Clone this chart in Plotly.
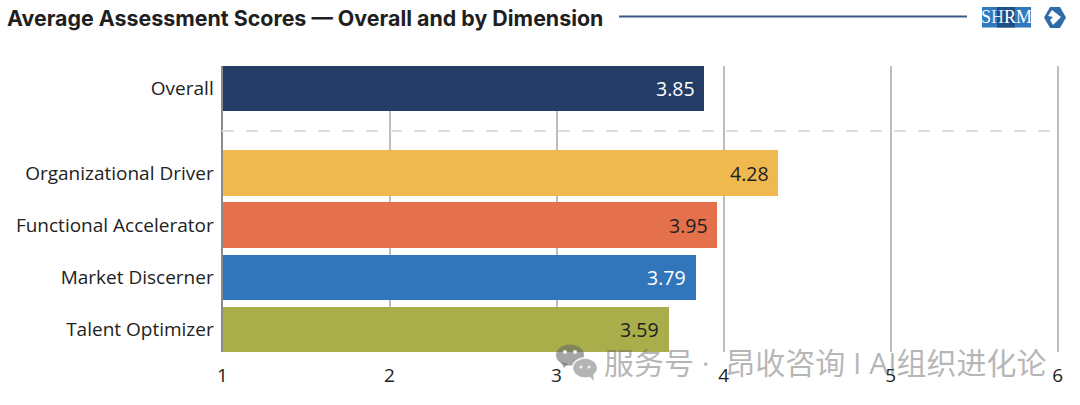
import plotly.graph_objects as go

categories = ["Overall", "Organizational Driver", "Functional Accelerator", "Market Discerner", "Talent Optimizer"]
bar_values = [3.88, 4.325, 3.96, 3.83, 3.67]
value_labels = ["3.85", "4.28", "3.95", "3.79", "3.59"]
bar_colors = ["#243d66", "#f0b94f", "#e4714c", "#3176bb", "#a9ad4a"]
label_colors = ["#ffffff", "#222222", "#222222", "#ffffff", "#222222"]
x_ticks = [1, 2, 3, 4, 5, 6]
group_gap = 0.62
FONT = "'Open Sans', sans-serif"
W, H = 1080, 405


def X(p):
    return p / W


def Y(p):
    return 1 - p / H


rows = [i + (group_gap if i > 0 else 0) for i in range(len(categories))]

fig = go.Figure(go.Bar(
    x=bar_values, y=rows, orientation="h", width=0.87,
    marker=dict(color=bar_colors, line=dict(width=0)),
    showlegend=False, hoverinfo="skip",
))

annotations = []
for r, v, t, c in zip(rows, bar_values, value_labels, label_colors):
    annotations.append(dict(x=v, y=r, xref="x", yref="y", text=t, showarrow=False,
                            xanchor="right", xshift=-7, font=dict(family=FONT, size=19.5, color=c)))

annotations.append(dict(x=X(5), y=Y(18), xref="paper", yref="paper", xanchor="left", yanchor="middle",
                        text="<b>Average Assessment Scores — Overall and by Dimension</b>", showarrow=False,
                        font=dict(family="Inter, sans-serif", size=21.4, color="#1f1f1f")))
annotations.append(dict(x=X(1006.5), y=Y(17.5), xref="paper", yref="paper", xanchor="center", yanchor="middle",
                        text="S<span style='color:#dfe8f4'>H</span>RM",
                        showarrow=False, font=dict(family="Liberation Serif", size=18, color="#ffffff")))
annotations.append(dict(x=X(602), y=Y(362), xref="paper", yref="paper", xanchor="left", yanchor="middle",
                        text="服务号 · \u00a0昂收咨询 I AI组织进化论", showarrow=False,
                        font=dict(family="'Open Sans', 'Noto Sans CJK SC'", size=30, color="rgba(110,110,110,0.5)")))


def pshape(**kw):
    return dict(xref="paper", yref="paper", **kw)


def ell(cx, cy, rx, ry, fill, line=None):
    return pshape(type="circle", x0=X(cx - rx), x1=X(cx + rx), y0=Y(cy - ry), y1=Y(cy + ry),
                  fillcolor=fill, line=dict(width=1.5 if line else 0, color=line or fill))


def poly(points, fill):
    path = "M " + " L ".join(f"{X(a)} {Y(b)}" for a, b in points) + " Z"
    return pshape(type="path", path=path, fillcolor=fill, line=dict(width=0))


shapes = [
    pshape(type="line", x0=X(222), x1=X(1058), y0=Y(131), y1=Y(131), layer="above",
           line=dict(color="#dedede", width=2, dash="12px 12px")),
    pshape(type="line", x0=X(619), x1=X(967), y0=Y(16.5), y1=Y(16.5), line=dict(color="#3d5a85", width=2)),
    pshape(type="rect", x0=X(982), x1=X(1031), y0=Y(7), y1=Y(27.5), fillcolor="#2f79bf", line=dict(width=0), layer="below"),
    pshape(type="rect", x0=X(997), x1=X(1015), y0=Y(7), y1=Y(27.5), fillcolor="#1f4f86", line=dict(width=0), layer="below"),
    poly([(1050, 7), (1060, 7), (1066, 17.5), (1060, 28), (1050, 28), (1044, 17.5)], "#2e6ca8"),
    poly([(1048, 16), (1052, 10), (1061, 17), (1053, 25), (1050, 20), (1053, 17)], "#ffffff"),
    ell(570, 355, 14, 10.5, "rgba(105,105,105,0.6)"),
    poly([(561, 362), (564, 368), (568, 364)], "rgba(105,105,105,0.6)"),
    ell(585, 368, 12.5, 10, "#b4b4b4", "rgba(255,255,255,0.9)"),
    poly([(589, 376), (594, 381), (593, 374)], "#b4b4b4"),
    ell(565, 352, 2, 2, "#f0f0f0"),
    ell(575, 352, 2, 2, "#f0f0f0"),
    ell(581, 367, 1.6, 1.6, "#f0f0f0"),
    ell(589, 367, 1.6, 1.6, "#f0f0f0"),
]

fig.update_layout(
    width=W, height=H, margin=dict(l=0, r=0, t=0, b=0, autoexpand=False),
    paper_bgcolor="#ffffff", plot_bgcolor="#ffffff", bargap=0,
    xaxis=dict(domain=[X(222.5), X(1061)], range=[x_ticks[0], x_ticks[-1] + 0.02], tickvals=x_ticks,
               showgrid=True, gridcolor="#bdbdbd", gridwidth=2, zeroline=False, showline=False,
               ticks="", ticklabelstandoff=10, automargin=False, anchor="y",
               tickfont=dict(family=FONT, size=19, color="#222222")),
    yaxis=dict(domain=[Y(352), Y(66)], range=[rows[-1] + 0.435, -0.435], tickvals=rows, ticktext=categories,
               showgrid=False, zeroline=False, showline=True, linecolor="#8a8a8a", linewidth=2,
               ticks="", ticklabelstandoff=3, automargin=False,
               tickfont=dict(family=FONT, size=19, color="#222222")),
    annotations=annotations, shapes=shapes,
)

fig.write_html("out.html", config={"displayModeBar": False},
               post_script="document.body.style.margin='0';")
